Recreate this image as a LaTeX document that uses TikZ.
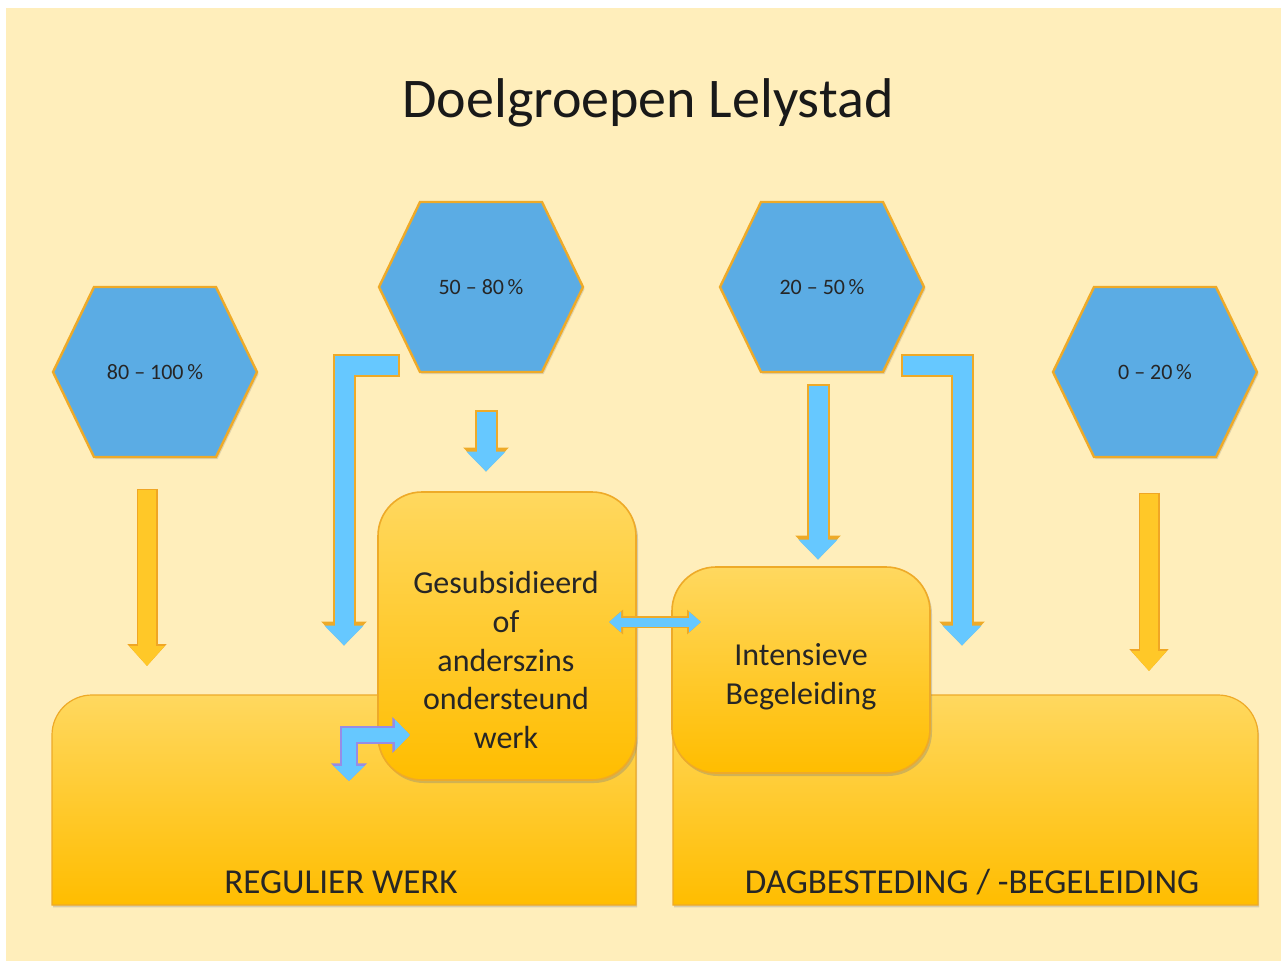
\documentclass[tikz,border=0pt]{standalone}
\usepackage{fontspec}
\setmainfont{Carlito}
\usetikzlibrary{arrows.meta,calc,shadows}
\definecolor{pagecream}{RGB}{255,238,187}
\definecolor{hexblue}{RGB}{91,172,228}
\definecolor{edgeorange}{RGB}{238,170,40}
\definecolor{boxtop}{RGB}{255,216,95}
\definecolor{boxbottom}{RGB}{255,189,0}
\definecolor{flowblue}{RGB}{102,200,255}
\definecolor{flowpurple}{RGB}{150,140,230}
\definecolor{floworange}{RGB}{255,200,40}

\begin{document}
\begin{tikzpicture}[x=0.5pt,y=0.5pt,
    hexa/.style={fill=hexblue,draw=edgeorange,line width=1.2pt,
      drop shadow={opacity=0.25,shadow xshift=0.8pt,shadow yshift=-1pt}},
    hexlabel/.style={minimum width=102pt,minimum height=85pt,inner sep=0pt,outer sep=0pt,
      font=\fontsize{11}{13}\selectfont,text=black!85},
    bigframe/.style={minimum height=105pt,inner sep=0pt,outer sep=0pt},
    bigbox/.style={draw=edgeorange,line width=0.6pt,top color=boxtop,bottom color=boxbottom,
      drop shadow={opacity=0.3,shadow xshift=0.6pt,shadow yshift=-1.2pt}},
    roundbox/.style={draw=edgeorange,line width=0.8pt,rounded corners=22pt,
      top color=boxtop,bottom color=boxbottom,minimum width=129pt,inner sep=0pt,outer sep=0pt,
      drop shadow={opacity=0.35,shadow xshift=1pt,shadow yshift=-1.5pt}},
    boxtext/.style={align=center,font=\fontsize{16}{19.4}\selectfont,text=black!85},
    bigtext/.style={anchor=base,font=\fontsize{17.5}{20}\selectfont,text=black!85},
    bluearrow/.style={draw=flowblue,line width=9.5pt,shorten >=1.2pt,
      -{Triangle[width=19pt,length=10pt]},
      preaction={draw=edgeorange,line width=11.5pt,shorten <=-0.8pt,
        -{Triangle[width=22pt,length=12pt]}}},
    orangearrow/.style={draw=floworange,line width=9pt,shorten >=1pt,
      -{Triangle[width=17pt,length=10pt]},
      preaction={draw=edgeorange!90!orange,line width=10.5pt,shorten <=-0.6pt,
        -{Triangle[width=19pt,length=11pt]}}},
    smallarrow/.style={draw=flowblue,line width=4.5pt,shorten >=1pt,shorten <=1pt,
      {Triangle[width=10pt,length=6pt]}-{Triangle[width=10pt,length=6pt]},
      preaction={draw=edgeorange,line width=6pt,
        {Triangle[width=12pt,length=7pt]}-{Triangle[width=12pt,length=7pt]}}},
    purplearrow/.style={draw=flowblue,line width=7pt,shorten >=1pt,shorten <=1pt,
      {Triangle[width=15pt,length=7.5pt]}-{Triangle[width=15pt,length=7.5pt]},
      preaction={draw=flowpurple,line width=8.6pt,
        {Triangle[width=17.5pt,length=8.8pt]}-{Triangle[width=17.5pt,length=8.8pt]}}}
  ]
    % page
    \fill[white] (0,0) rectangle (1287,-964);
    \fill[pagecream] (6,-8) rectangle (1281,-961);
    \useasboundingbox (0,0) rectangle (1287,-964);

    \node[anchor=base,font=\fontsize{28}{34}\selectfont,text=black!90] (title) at (648,-117) {Doelgroepen Lelystad};

    % percentage groups
    \foreach \name/\x/\y/\pct in {hA/155/372/{80 -- 100}, hB/481/287/{50 -- 80},
        hC/822/287/{20 -- 50}, hD/1155/372/{0 -- 20}}{
      \draw[hexa] (\x,-\y) ++(-102,0) -- ++(41,85) -- ++(122,0) -- ++(41,-85)
        -- ++(-41,-85) -- ++(-122,0) -- cycle;
      \node[hexlabel] (\name) at (\x,-\y) {\pct\,\%};
    }

    % base areas
    \node[bigframe,minimum width=292pt] (regulier) at (344,-800) {};
    \node[bigframe,minimum width=292.5pt] (dagbest) at (965.5,-800) {};
    \draw[bigbox] (regulier.south west) -- ([yshift=-20pt]regulier.north west)
      arc[start angle=180,end angle=90,radius=20pt] -- (regulier.north east)
      -- (regulier.south east) -- cycle;
    \draw[bigbox] (dagbest.south east) -- ([yshift=-20pt]dagbest.north east)
      arc[start angle=0,end angle=90,radius=20pt] -- (dagbest.north west)
      -- (dagbest.south west) -- cycle;
    \node[bigtext] (regulierlabel) at (341,-893) {REGULIER WERK};
    \node[bigtext] (dagbestlabel) at (972,-893) {DAGBESTEDING / -BEGELEIDING};

    % middle areas
    \node[roundbox,minimum height=144pt] (gesub) at (507,-636) {};
    \node[boxtext] (gesublabel) at (506,-660) {Gesubsidieerd\\of\\anderszins\\ondersteund\\werk};
    \node[roundbox,minimum height=103pt] (intens) at (801,-670) {};
    \node[boxtext] (intenslabel) at (801,-677) {Intensieve\\Begeleiding};

    % flows
    \draw[orangearrow] ($(hA.south)+(-8,-33)$) -- ($(regulier.north west)+(95,27)$);
    \draw[orangearrow] ($(hD.south)+(-6,-37)$) -- ($(dagbest.north east)+(-109,22)$);
    \draw[bluearrow] ($(hB.south)+(5,-40)$) -- ($(gesub.north)+(-21,18)$);
    \draw[bluearrow] ($(hC.south)+(-4,-14)$) -- ($(intens.north)+(17,5)$);
    \draw[bluearrow] ($(hB.south west)+(19,7)$) -| ($(gesub.west)+(-34,-12)$);
    \draw[bluearrow] ($(hC.south east)+(-21,7)$) -| ($(intens.east)+(32,22)$);
    \draw[smallarrow] ($(gesub.east)+(-29,14)$) -- ($(intens.west)+(31,48)$);
    \draw[purplearrow] ($(gesub.south west)+(34,45)$) -| ($(gesub.south west)+(-29,-3)$);
  \end{tikzpicture}
\end{document}
